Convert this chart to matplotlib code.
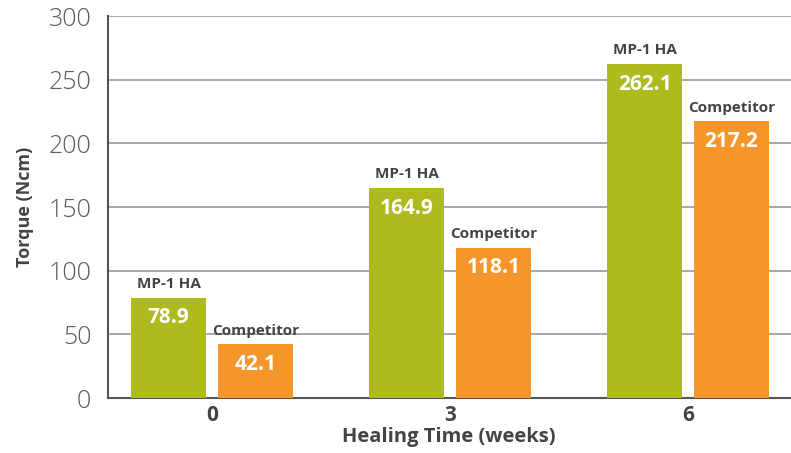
import matplotlib
matplotlib.use("Agg")
import matplotlib.pyplot as plt
import numpy as np

categories = ["0", "3", "6"]
mp1_values = [78.9, 164.9, 262.1]
competitor_values = [42.1, 118.1, 217.2]
series_names = ["MP-1 HA", "Competitor"]
y_ticks = [0, 50, 100, 150, 200, 250, 300]

green = "#AFBA1F"
orange = "#F5962B"
dark = "#444444"

fig = plt.figure(figsize=(7.91, 4.53), dpi=100)
ax = fig.add_axes([108/791, 1 - 398/453, (791-108)/791, (398-16)/453])

x = np.arange(len(categories))
w = 0.315
off = 0.182
b1 = ax.bar(x - off, mp1_values, w, color=green, zorder=3)
b2 = ax.bar(x + off, competitor_values, w, color=orange, zorder=3)

for bars, vals, name in [(b1, mp1_values, series_names[0]), (b2, competitor_values, series_names[1])]:
    for r, v in zip(bars, vals):
        cx = r.get_x() + r.get_width() / 2
        ax.annotate(f"{v:.1f}", (cx, v), xytext=(0, -14.5), textcoords="offset points",
                    ha="center", va="center", color="white", fontsize=15,
                    fontweight="bold", family="Open Sans", zorder=4)
        ax.annotate(name, (cx, v), xytext=(0, 10), textcoords="offset points",
                    ha="center", va="center", color=dark, fontsize=11,
                    fontweight="bold", family="Open Sans", zorder=4)

ax.set_xlim(-0.437, 2.433)
ax.set_ylim(0, 300)
ax.set_yticks(y_ticks)
ax.set_yticklabels([str(t) for t in y_ticks], fontsize=18, color="#5a5a5a",
                   family="Open Sans", fontweight="light")
ax.set_xticks(x)
ax.set_xticklabels(categories, fontsize=15, fontweight="bold", color=dark, family="Open Sans")
ax.tick_params(axis="both", length=0)
ax.tick_params(axis="y", pad=12)
ax.tick_params(axis="x", pad=5)
ax.grid(axis="y", color="#999999", linewidth=1.2, zorder=0)
for s in ["top", "right"]:
    ax.spines[s].set_visible(False)
for s in ["left", "bottom"]:
    ax.spines[s].set_color("#555555")
    ax.spines[s].set_linewidth(1.5)

ax.set_ylabel("Torque (Ncm)", fontsize=13, fontweight="bold", color=dark, family="Open Sans")
ax.yaxis.set_label_coords((25 - 108) / 683, 0.5)
ax.set_xlabel("Healing Time (weeks)", fontsize=14.5, fontweight="bold", color=dark, family="Open Sans")
ax.xaxis.set_label_coords((449 - 108) / 683, -(437 - 398) / 382)
ax.xaxis.label.set_va("center")
ax.yaxis.label.set_va("center")

fig.savefig("out.png", dpi=100)
